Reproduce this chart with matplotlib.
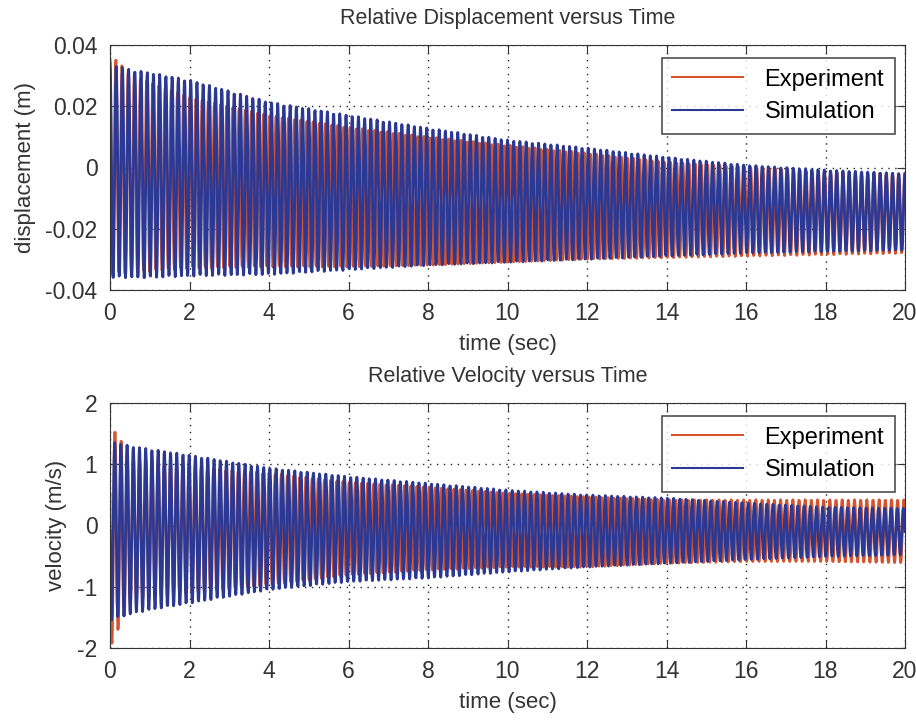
import numpy as np
import matplotlib
matplotlib.use("Agg")
import matplotlib.pyplot as plt

plt.rcParams['font.family'] = ['Liberation Sans', 'DejaVu Sans']
plt.rcParams['axes.unicode_minus'] = False

# envelope knots (sec)
t_knots = [0, 0.5, 1, 2, 4, 6, 8, 10, 12, 14, 16, 18, 20]

# displacement (m): upper / lower envelopes
disp_sim_hi = [0.034, 0.032, 0.031, 0.0286, 0.0214, 0.0171, 0.0129, 0.009, 0.0064, 0.0034, 0.0008, -0.0008, -0.002]
disp_sim_lo = [-0.036, -0.036, -0.036, -0.0355, -0.035, -0.0335, -0.032, -0.031, -0.030, -0.029, -0.028, -0.0275, -0.027]
disp_exp_hi = [0.037, 0.031, 0.028, 0.023, 0.0171, 0.0132, 0.010, 0.0073, 0.0047, 0.0018, 0.0002, -0.0015, -0.002]
disp_exp_lo = [-0.035, -0.0345, -0.034, -0.033, -0.0325, -0.0325, -0.032, -0.031, -0.030, -0.0295, -0.029, -0.0285, -0.028]

# velocity (m/s): upper / lower envelopes
vel_sim_hi = [1.38, 1.3, 1.25, 1.15, 0.94, 0.8, 0.69, 0.58, 0.5, 0.45, 0.37, 0.3, 0.28]
vel_sim_lo = [-1.55, -1.45, -1.38, -1.27, -1.05, -0.92, -0.86, -0.76, -0.68, -0.62, -0.56, -0.51, -0.48]
vel_exp_hi = [1.7, 1.12, 1.05, 0.96, 0.86, 0.71, 0.63, 0.53, 0.47, 0.42, 0.42, 0.42, 0.42]
vel_exp_lo = [-2.0, -1.27, -1.18, -1.1, -0.97, -0.81, -0.73, -0.68, -0.68, -0.62, -0.59, -0.59, -0.61]

# oscillation frequency (Hz) estimated from spike spacing, sample step (s)
f_sim = 6.4
f_exp = 6.45
dt = 0.01

t = np.arange(0, 20 + dt / 2, dt)


def signal(hi, lo, f, phase=0.0):
    hi = np.interp(t, t_knots, hi)
    lo = np.interp(t, t_knots, lo)
    mid = (hi + lo) / 2
    amp = (hi - lo) / 2
    return mid + amp * np.cos(2 * np.pi * f * t + phase)


RED = '#d5542e'
BLUE = '#2c3994'
TXT = '#333333'

fig = plt.figure(figsize=(9.16, 7.25), dpi=100)
W, H = 916, 725


def style_axes(ax, ylim, yticks, ylabel, title):
    ax.set_xlim(0, 20)
    ax.set_ylim(*ylim)
    ax.set_xticks(range(0, 21, 2))
    ax.set_yticks(yticks)
    ax.grid(True, linestyle=(0, (1, 4)), color='#222222', linewidth=1.0)
    ax.tick_params(direction='in', top=True, right=True, labelsize=16.5, length=6,
                   colors=TXT, pad=9)
    for s in ax.spines.values():
        s.set_color(TXT)
    ax.set_xlabel('time (sec)', fontsize=16, color=TXT, labelpad=6)
    ax.set_ylabel(ylabel, fontsize=16, color=TXT, labelpad=7)
    ax.set_title(title, fontsize=15.5, color=TXT, pad=15)
    leg = ax.legend(loc='upper right', bbox_to_anchor=(0.987, 0.947), fontsize=17,
                    handlelength=3.0, handletextpad=0.9, frameon=True, fancybox=False,
                    borderaxespad=0, borderpad=0.45, labelspacing=0.45)
    leg.get_frame().set_edgecolor('#222222')
    leg.get_frame().set_linewidth(1.2)
    for h in leg.get_lines():
        h.set_linewidth(1.5)


ax1 = fig.add_axes([110 / W, 1 - 290 / H, 795 / W, 245 / H])
ax1.plot(t, signal(disp_exp_hi, disp_exp_lo, f_exp, 0.3), color=RED, lw=2.0, label='Experiment')
ax1.plot(t, signal(disp_sim_hi, disp_sim_lo, f_sim), color=BLUE, lw=2.0, label='Simulation')
style_axes(ax1, (-0.04, 0.04), [-0.04, -0.02, 0, 0.02, 0.04], 'displacement (m)',
           'Relative Displacement versus Time')
ax1.set_yticklabels(['-0.04', '-0.02', '0', '0.02', '0.04'])

ax2 = fig.add_axes([110 / W, 1 - 648 / H, 795 / W, 245 / H])
ax2.plot(t, signal(vel_exp_hi, vel_exp_lo, f_exp, 1.2), color=RED, lw=2.0, label='Experiment')
ax2.plot(t, signal(vel_sim_hi, vel_sim_lo, f_sim, 1.57), color=BLUE, lw=2.0, label='Simulation')
style_axes(ax2, (-2, 2), [-2, -1, 0, 1, 2], 'velocity (m/s)', 'Relative Velocity versus Time')

fig.savefig('out.png', dpi=100)
